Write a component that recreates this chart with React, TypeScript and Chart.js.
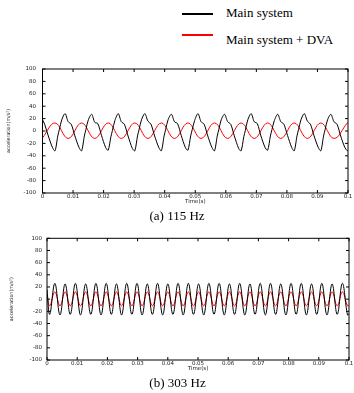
import React, { useEffect, useRef } from 'react';
import { Chart, registerables } from 'chart.js';

Chart.register(...registerables);

// ---------- data ----------
const xTickLabels = ['0', '0.01', '0.02', '0.03', '0.04', '0.05', '0.06', '0.07', '0.08', '0.09', '0.1'];

// (a) 115 Hz – main system (black)
const timeMainA = [
  0, 0.0007, 0.0019, 0.0033, 0.0041, 0.0050, 0.0055, 0.0063,
  0.0074, 0.0084, 0.0094, 0.0106, 0.0120, 0.0128, 0.0137, 0.0142, 0.0150,
  0.0161, 0.0171, 0.0181, 0.0193, 0.0207, 0.0215, 0.0224, 0.0229, 0.0237,
  0.0248, 0.0258, 0.0268, 0.0280, 0.0294, 0.0302, 0.0311, 0.0316, 0.0324,
  0.0335, 0.0345, 0.0355, 0.0367, 0.0381, 0.0389, 0.0398, 0.0403, 0.0411,
  0.0422, 0.0432, 0.0442, 0.0454, 0.0468, 0.0476, 0.0485, 0.0490, 0.0498,
  0.0509, 0.0519, 0.0529, 0.0541, 0.0555, 0.0563, 0.0572, 0.0577, 0.0585,
  0.0596, 0.0606, 0.0616, 0.0628, 0.0642, 0.0650, 0.0659, 0.0664, 0.0672,
  0.0683, 0.0693, 0.0703, 0.0715, 0.0729, 0.0737, 0.0746, 0.0751, 0.0759,
  0.0770, 0.0780, 0.0790, 0.0802, 0.0816, 0.0824, 0.0833, 0.0838, 0.0846,
  0.0857, 0.0867, 0.0877, 0.0889, 0.0903, 0.0911, 0.0920, 0.0925, 0.0933,
  0.0944, 0.0954, 0.0964, 0.0976, 0.0990, 0.0998, 0.1000,
];
const accMainA = [
  18, 11, -8, -27, -32, -8, 2, 18,
  28, 15, 11, -8, -27, -32, -8, 2, 18,
  27, 14, 12, -7, -27, -31, -9, 1, 17,
  28, 15, 11, -8, -28, -32, -8, 2, 18,
  28, 16, 11, -8, -27, -32, -8, 2, 18,
  27, 15, 12, -7, -27, -31, -8, 2, 17,
  28, 15, 11, -8, -27, -32, -8, 2, 18,
  27, 15, 11, -8, -28, -32, -9, 1, 18,
  28, 15, 12, -8, -27, -31, -8, 2, 17,
  27, 15, 11, -7, -27, -32, -8, 2, 18,
  28, 16, 11, -8, -27, -32, -8, 2, 18,
  27, 15, 11, -8, -27, -32, -31,
];

// (a) 115 Hz – main system + DVA (red)
const timeDvaA = [
  0, 0.0041, 0.0084, 0.0128, 0.0171, 0.0215, 0.0258, 0.0302, 0.0345, 0.0389, 0.0432, 0.0476,
  0.0519, 0.0563, 0.0606, 0.0650, 0.0693, 0.0737, 0.0780, 0.0824, 0.0867, 0.0911, 0.0954, 0.0998, 0.1000,
];
const accDvaA = [
  -11, 13, -12, 13, -12, 13, -12, 13, -12, 13, -12, 13,
  -12, 13, -12, 13, -12, 13, -12, 13, -12, 13, -12, 13, 13,
];

// (b) 303 Hz – shared time samples (extremes)
const timeB = [
  0, 0.0009, 0.0026, 0.0043, 0.0060, 0.0077, 0.0094, 0.0111, 0.0128, 0.0145, 0.0162,
  0.0179, 0.0196, 0.0213, 0.0230, 0.0247, 0.0264, 0.0281, 0.0298, 0.0315, 0.0332,
  0.0349, 0.0366, 0.0383, 0.0400, 0.0417, 0.0434, 0.0451, 0.0468, 0.0485, 0.0502,
  0.0519, 0.0536, 0.0553, 0.0570, 0.0587, 0.0604, 0.0621, 0.0638, 0.0655, 0.0672,
  0.0689, 0.0706, 0.0723, 0.0740, 0.0757, 0.0774, 0.0791, 0.0808, 0.0825, 0.0842,
  0.0859, 0.0876, 0.0893, 0.0910, 0.0927, 0.0944, 0.0961, 0.0978, 0.0995, 0.1000,
];
const accMainB = [
  16, -25, 26, -26, 25, -25, 26, -26, 25, -25, 26,
  -26, 26, -25, 25, -26, 26, -25, 26, -26, 25,
  -25, 26, -26, 25, -25, 26, -26, 26, -25, 25,
  -26, 26, -25, 26, -26, 25, -25, 26, -26, 25,
  -25, 26, -26, 26, -25, 25, -26, 26, -25, 26,
  -26, 25, -25, 26, -26, 25, -25, 26, -26, -24,
];
const accDvaB = [
  8, -11, 12, -11, 12, -11, 12, -11, 12, -11, 12,
  -11, 12, -11, 12, -11, 12, -11, 12, -11, 12,
  -11, 12, -11, 12, -11, 12, -11, 12, -11, 12,
  -11, 12, -11, 12, -11, 12, -11, 12, -11, 12,
  -11, 12, -11, 12, -11, 12, -11, 12, -11, 12,
  -11, 12, -11, 12, -11, 12, -11, 12, -11, -10,
];

const seriesNames = ['Main system', 'Main system + DVA'];
const captions = ['(a) 115 Hz', '(b) 303 Hz'];
const yTitle = 'acceleration(m/s\u00B2)';
const xTitle = 'Time(s)';

// ---------- helpers ----------
const zip = (xs: number[], ys: number[]) => xs.map((x, i) => ({ x, y: ys[i] }));

const framePlugin = {
  id: 'frameTicks',
  afterDatasetsDraw(chart: any) {
    const { ctx, chartArea: a, scales } = chart;
    ctx.save();
    ctx.strokeStyle = '#000';
    ctx.lineWidth = 1;
    ctx.strokeRect(a.left, a.top, a.right - a.left, a.bottom - a.top);
    const L = 3;
    ctx.beginPath();
    scales.x.ticks.forEach((t: any) => {
      const px = scales.x.getPixelForValue(t.value);
      ctx.moveTo(px, a.bottom);
      ctx.lineTo(px, a.bottom - L);
      ctx.moveTo(px, a.top);
      ctx.lineTo(px, a.top + L);
    });
    scales.y.ticks.forEach((t: any) => {
      const py = scales.y.getPixelForValue(t.value);
      ctx.moveTo(a.left, py);
      ctx.lineTo(a.left + L, py);
      ctx.moveTo(a.right, py);
      ctx.lineTo(a.right - L, py);
    });
    ctx.stroke();
    ctx.restore();
  },
};

const tickFont = { family: '"DejaVu Sans", sans-serif', size: 5.5, lineHeight: 1.2 };

interface PanelProps {
  top: number;
  height: number;
  main: { x: number; y: number }[];
  dva: { x: number; y: number }[];
  caption: string;
  pad: { left: number; right: number; top: number; bottom: number };
  yWidth: number;
  yPad: number;
  yTitlePad: number;
  xHeight: number;
  xTitlePad: number;
  mainTension: number;
}

function Panel(p: PanelProps) {
  const ref = useRef<HTMLCanvasElement | null>(null);
  useEffect(() => {
    if (!ref.current) return;
    const chart = new Chart(ref.current, {
      type: 'line',
      data: {
        datasets: [
          {
            label: seriesNames[0],
            data: p.main,
            borderColor: '#000000',
            borderWidth: 1,
            pointRadius: 0,
            tension: p.mainTension,
            fill: false,
          },
          {
            label: seriesNames[1],
            data: p.dva,
            borderColor: '#ff0000',
            borderWidth: 1,
            pointRadius: 0,
            tension: 0.4,
            fill: false,
          },
        ],
      },
      options: {
        animation: false,
        responsive: false,
        maintainAspectRatio: false,
        events: [],
        layout: { padding: p.pad },
        plugins: {
          legend: { display: false },
          tooltip: { enabled: false },
          title: {
            display: true,
            position: 'bottom',
            text: p.caption,
            color: '#000',
            padding: { top: 0, bottom: 0 },
            font: { family: '"Liberation Serif", serif', size: 13, weight: 'normal', lineHeight: 1.2 },
          },
        },
        scales: {
          x: {
            type: 'linear',
            min: 0,
            max: 0.1,
            grid: { display: false, drawTicks: false },
            border: { display: false },
            ticks: {
              stepSize: 0.01,
              autoSkip: false,
              maxRotation: 0,
              minRotation: 0,
              padding: 0,
              color: '#222',
              font: tickFont,
              callback: (_v: any, i: number) => xTickLabels[i] ?? '',
            },
            title: {
              display: true,
              text: xTitle,
              color: '#222',
              font: tickFont,
              padding: { top: 0, bottom: p.xTitlePad },
            },
            afterFit: (s: any) => {
              s.height = p.xHeight;
            },
          },
          y: {
            type: 'linear',
            min: -100,
            max: 100,
            grid: { display: false, drawTicks: false },
            border: { display: false },
            ticks: {
              stepSize: 20,
              padding: p.yPad,
              color: '#222',
              font: tickFont,
            },
            title: {
              display: true,
              text: yTitle,
              color: '#222',
              font: { family: '"DejaVu Sans", sans-serif', size: 4.8, lineHeight: 1 },
              padding: { top: p.yTitlePad, bottom: 0 },
            },
            afterFit: (s: any) => {
              s.width = p.yWidth;
            },
          },
        },
      } as any,
      plugins: [framePlugin],
    });
    return () => chart.destroy();
  }, []);
  return (
    <canvas
      ref={ref}
      width={354}
      height={p.height}
      style={{ position: 'absolute', left: 0, top: p.top, width: 354, height: p.height }}
    />
  );
}

const legendText: React.CSSProperties = {
  position: 'absolute',
  left: 226,
  fontFamily: '"Liberation Serif", serif',
  fontSize: 13,
  lineHeight: '13px',
  whiteSpace: 'nowrap',
  color: '#000',
};

export default function App() {
  return (
    <div style={{ position: 'absolute', left: 0, top: 0, width: 354, height: 393, background: '#fff', overflow: 'hidden' }}>
      <div style={{ position: 'absolute', left: 182, top: 13.25, width: 31, height: 1.5, background: '#000' }} />
      <div style={{ ...legendText, top: 6.4 }}>{seriesNames[0]}</div>
      <div style={{ position: 'absolute', left: 182, top: 34.25, width: 31, height: 1.5, background: '#ff0000' }} />
      <div style={{ ...legendText, top: 33.3 }}>{seriesNames[1]}</div>
      <Panel
        top={55}
        height={175}
        main={zip(timeMainA, accMainA)}
        dva={zip(timeDvaA, accDvaA)}
        caption={captions[0]}
        pad={{ left: 6, right: 6, top: 14, bottom: 5.2 }}
        yWidth={36.5}
        yPad={6.5}
        yTitlePad={0.1}
        xHeight={16.2}
        xTitlePad={4.4}
        mainTension={0.3}
      />
      <Panel
        top={230}
        height={163}
        main={zip(timeB, accMainB)}
        dva={zip(timeB, accDvaB)}
        caption={captions[1]}
        pad={{ left: 6, right: 5, top: 7, bottom: 1.7 }}
        yWidth={41}
        yPad={5}
        yTitlePad={3.6}
        xHeight={15.7}
        xTitlePad={3.9}
        mainTension={0.4}
      />
    </div>
  );
}
